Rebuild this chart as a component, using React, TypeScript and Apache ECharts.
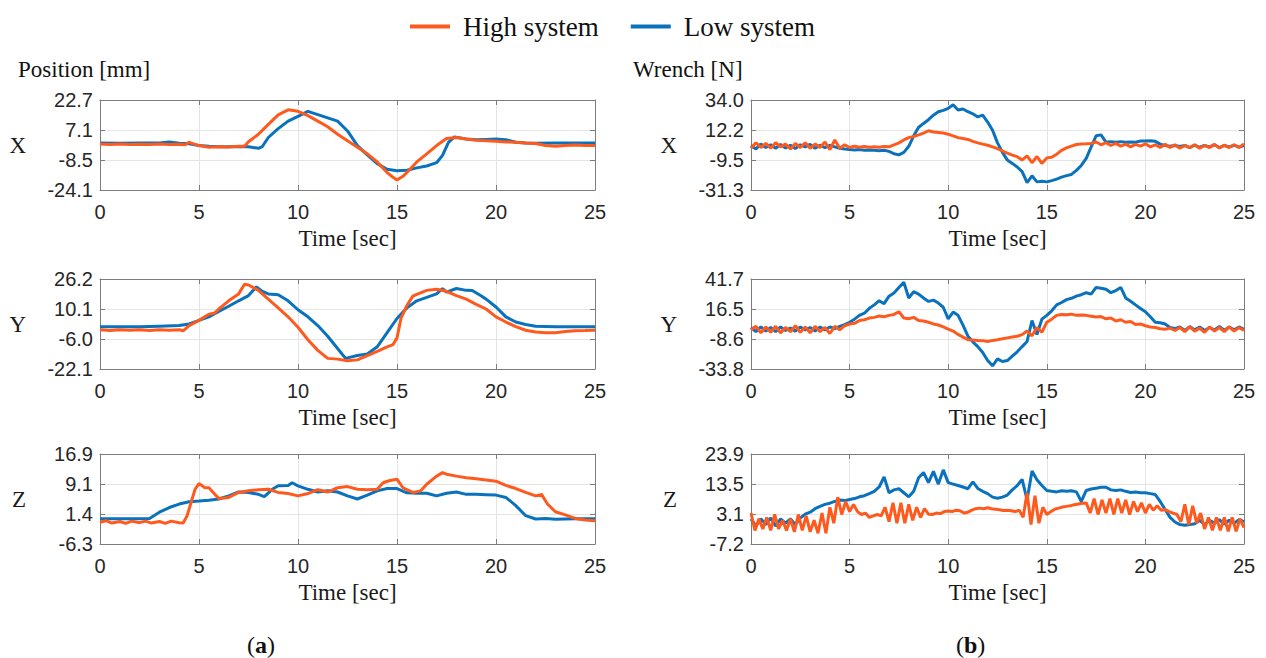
import React, { useEffect, useRef } from 'react';
import * as echarts from 'echarts';

// ---------------- data ----------------
const legendNames = ['High system', 'Low system'];
const timeMin = 0;
const timeMax = 25;
const timeInterval = 5;

const posXTicks = [-24.1, -8.5, 7.1, 22.7];
const posYTicks = [-22.1, -6.0, 10.1, 26.2];
const posZTicks = [-6.3, 1.4, 9.1, 16.9];
const wrXTicks = [-31.3, -9.5, 12.2, 34.0];
const wrYTicks = [-33.8, -8.6, 16.5, 41.7];
const wrZTicks = [-7.2, 3.1, 13.5, 23.9];

// Position [mm] — [time, value]
const posXHigh = [[0,-0.2],[0.5,-0.4],[1,-0.2],[1.5,-0.5],[2,-0.3],[2.5,-0.5],[3,-0.2],[3.5,-0.4],[4,-0.3],[4.3,-0.6],[4.5,0.7],[4.8,-0.4],[5,-1.0],[5.5,-1.9],[6,-1.6],[6.5,-1.7],[7,-1.4],[7.3,-1.3],[7.5,1.0],[8,4.9],[8.5,10],[9,15],[9.5,17.6],[10,16.8],[10.5,14.6],[11,11.7],[11.5,8.8],[12,4.9],[12.5,1.5],[13,-1.9],[13.5,-5.3],[14,-9.5],[14.5,-15],[14.8,-17.5],[15,-18.9],[15.3,-17.0],[15.5,-15],[16,-9.5],[16.5,-5.3],[17,-1.0],[17.5,2.7],[18,3.2],[18.5,2.4],[19,1.8],[19.5,1.5],[20,1.2],[20.5,0.9],[21,0.7],[21.5,0.3],[22,0.1],[22.5,-1.0],[23,-1.4],[23.5,-1.0],[24,-0.7],[24.5,-0.9],[25,-1.0]];
const posXLow = [[0,0.3],[1,0.2],[2,0.3],[3,0.3],[3.5,0.9],[4,0.2],[4.5,0],[5,-1.0],[5.5,-1.4],[6,-1.6],[6.5,-1.6],[7,-1.5],[7.5,-1.6],[8,-2.4],[8.2,-1.5],[8.5,3.2],[9,7.8],[9.5,11.7],[10,14.2],[10.5,16.8],[11,15.1],[11.5,13.4],[12,11.7],[12.5,6.6],[13,-1.0],[13.5,-5.8],[14,-10.4],[14.5,-13.3],[15,-14.1],[15.5,-13.8],[16,-12.6],[16.5,-11.6],[17,-9.9],[17.3,-6.1],[17.6,0.7],[17.9,3.5],[18.5,2.4],[19,2.0],[19.5,2.2],[20,2.4],[20.5,2.0],[21,0.7],[21.5,0.3],[22,0.2],[23,0.3],[24,0.3],[25,0.3]];
const posYHigh = [[0,-1.1],[0.5,-1.4],[1,-1.0],[1.5,-1.3],[2,-1.0],[2.5,-1.4],[3,-1.1],[3.5,-1.3],[4,-1.0],[4.2,-1.6],[4.5,1.2],[5,4.0],[5.5,7.3],[5.8,8.0],[6,10.1],[6.5,14.5],[7,18.2],[7.3,23.4],[7.5,23],[8,20.1],[8.5,15.4],[9,10.7],[9.5,5.9],[10,0.3],[10.5,-6.4],[11,-12.1],[11.5,-16.4],[12,-16.8],[12.5,-17.7],[13,-17.2],[13.5,-14.9],[14,-12.6],[14.5,-10.2],[14.8,-9.0],[15,-5.4],[15.2,5.0],[15.5,12.0],[15.8,17.0],[16,18.0],[16.5,20.1],[17,20.7],[17.5,19.6],[18,17.3],[18.5,15.4],[19,12.6],[19.5,10.1],[20,5.9],[20.5,3.1],[21,0.6],[21.5,-1.3],[22,-2.2],[22.5,-2.6],[23,-2.6],[23.5,-2.0],[24,-1.6],[24.5,-1.5],[25,-1.3]];
const posYLow = [[0,0.6],[1,0.6],[2,0.6],[3,0.9],[4,1.2],[4.5,2.1],[5,4.0],[5.5,5.9],[6,8.8],[6.5,11.6],[7,14.5],[7.5,17.3],[7.9,22],[8.2,19.5],[8.5,18.2],[9,17.7],[9.5,14.5],[10,9.7],[10.5,5.9],[11,1.2],[11.5,-4.5],[12,-11.1],[12.4,-16.4],[13,-14.9],[13.5,-14],[14,-10.2],[14.5,-2.6],[15,5.0],[15.5,10.7],[16,14.5],[16.5,16.3],[17,18.2],[17.3,21.1],[17.5,19.2],[18,21.1],[18.5,20.1],[18.8,20.0],[19.2,17.5],[19.5,15.4],[20,11.2],[20.5,5.9],[21,3.1],[21.5,1.8],[22,0.8],[23,0.6],[24,0.6],[25,0.6]];
const posZHigh = [[0,-0.7],[0.3,-0.3],[0.6,-0.9],[1,-0.5],[1.3,-1.0],[1.6,-0.4],[2,-0.8],[2.3,-0.4],[2.6,-0.9],[3,-0.5],[3.3,-1.0],[3.6,-0.4],[4,-0.8],[4.2,-0.9],[4.4,1.0],[4.6,4.4],[4.8,7.8],[5,9.3],[5.3,8.2],[5.5,8.2],[5.8,6.5],[6,5.4],[6.5,5.7],[7,7.0],[7.5,7.4],[8,7.7],[8.5,7.8],[9,7.0],[9.5,6.7],[10,6.1],[10.5,6.7],[11,7.7],[11.5,7.1],[12,8.2],[12.5,8.5],[13,7.8],[13.5,7.7],[14,7.8],[14.3,9.5],[14.6,10.0],[15,10.4],[15.3,8.2],[15.8,7.0],[16.2,7.4],[16.5,9.1],[17,11.2],[17.3,12.1],[17.5,11.7],[18,11.2],[18.5,10.8],[19,10.5],[19.5,10.2],[20,9.9],[20.5,8.8],[21,8.0],[21.5,7.0],[22,6.1],[22.3,6.5],[22.6,4.0],[23,2.0],[23.5,1.2],[24,0.3],[24.5,-0.1],[25,-0.3]];
const posZLow = [[0,0.2],[1,0.2],[2,0.2],[2.5,0.3],[3,1.9],[3.5,3.1],[4,4.0],[4.5,4.6],[5,4.8],[5.5,5.0],[6,5.3],[6.5,6.1],[7,7.1],[7.5,7.0],[8,6.5],[8.3,5.9],[8.7,7.8],[9,8.7],[9.5,8.8],[9.7,9.5],[10,8.7],[10.5,7.8],[11,7.1],[11.5,7.4],[12,7.1],[12.5,6.1],[13,5.3],[13.5,6.3],[14,7.4],[14.5,8.0],[15,8.0],[15.5,6.9],[16,6.8],[16.5,6.8],[17,6.1],[17.5,6.8],[18,7.1],[18.5,6.5],[19,6.5],[19.5,6.4],[20,6.3],[20.5,5.7],[21,3.6],[21.5,1.0],[22,0.15],[22.5,0.3],[23,0.1],[24,0.2],[25,0.2]];

// Wrench [N] — sampled every wrStep seconds from t = 0
const wrStep = 0.25;
const wrZHighStep = 0.2;
const wrXLow = [
  1.0,-1.5,2.0,-0.5, 1.5,-1.0,1.8,-0.8, 1.2,-1.2,1.5,0.0, 1.8,-1.0,1.2,-0.5, 1.0,0.0,-1.0,-1.5,
  -2.0,-2.2,-2.0,-2.5, -2.2,-2.5,-2.8,-2.5, -3.3,-5.0,-5.8,-4.0, 0.4,8.0,14.2,17.0, 19.7,23.0,25.5,26.5,
  28.0,30.5,26.7,27.5, 25.5,24.0,21.7,23.0, 18.0,12.0,2.9,-4.0, -9.6,-12.0,-14.6,-18.0, -25.9,-21.0,-25.4,-25.0,
  -25.4,-24.5,-23.4,-22.0, -20.9,-20.0,-17.1,-13.5, -8.4,0.0,8.0,8.7, 3.4,3.8,3.4,3.8, 3.4,3.6,3.4,4.2,
  4.2,4.5,4.0,2.0, 0.9,0.4,1.0,0.2, 1.0,-0.5,1.2,-0.3, 1.0,0.0,1.5,-0.5, 1.0,0.0,1.2,-0.2,
  1.0];
const wrXHigh = [
  -1.0,3.0,-0.5,2.5, -1.0,3.0,0.0,2.0, -1.5,2.5,-0.5,3.0, -1.0,2.0,-0.5,3.5, -2.0,5.0,-1.0,1.5,
  -0.5,0.5,-0.3,0.2, -0.3,0.0,-0.3,0.2, 0.0,1.5,2.9,5.0, 6.7,7.5,8.7,10.0, 11.7,10.8,10.4,10.0,
  9.2,8.0,6.7,6.0, 5.4,4.0,2.9,2.0, 1.2,0.0,-1.3,-3.0, -4.6,-6.0,-7.1,-9.5, -6.5,-11.5,-7.0,-12.0,
  -8.0,-7.5,-5.3,-2.5, -0.8,0.5,1.7,2.0, 2.2,2.5,3.5,1.5, 3.0,1.0,2.5,0.5, 2.0,0.0,1.8,0.5,
  2.2,0.0,1.5,-0.5, 1.8,-0.5,1.5,-1.0, 1.0,-0.5,1.5,-1.0, 1.0,-0.5,1.8,-0.8, 1.2,-0.5,1.5,-0.5,
  2.0];
const wrYLow = [
  1.0,-2.5,1.5,-2.0, 1.0,-2.5,1.5,-1.5, 0.5,-2.0,1.5,-1.0, 1.0,-2.0,1.5,-1.0, 1.5,0.0,2.0,3.5,
  5.4,8.0,11.2,13.0, 17.1,20.0,23.5,21.0, 27.3,30.0,34.6,39.0, 25.8,31.1,29.0,25.8, 22.9,24.0,21.5,18.0,
  8.3,14.0,11.2,3.0, -6.3,-11.0,-15.0,-20.0, -26.7,-31.1,-25.3,-27.5, -26.7,-23.0,-19.4,-15.0, -10.7,6.9,-4.8,8.0,
  11.2,15.0,20.0,22.0, 24.4,25.5,27.3,28.5, 30.2,29.0,34.6,34.0, 33.1,30.2,32.0,34.6, 25.8,23.0,20.0,17.0,
  14.2,10.0,5.4,5.0, 3.9,1.0,0.1,1.5, -1.5,1.8,-1.0,1.5, -1.5,1.0,-1.0,1.8, -1.2,1.5,-1.0,1.5,
  -0.5];
const wrYHigh = [
  -1.0,2.0,-3.5,1.5, -3.0,2.0,-3.5,1.0, -2.5,2.5,-3.0,1.5, -3.5,2.0,-2.5,1.0, -4.0,2.0,-1.0,2.5,
  3.9,4.5,6.9,7.5, 8.9,9.5,10.7,10.0, 11.2,12.0,14.2,9.0, 8.3,9.5,6.9,6.5, 5.4,4.0,3.1,1.5,
  -0.4,-2.0,-4.8,-7.0, -9.2,-9.5,-9.8,-10.0, -10.7,-9.8,-9.2,-8.5, -7.7,-7.0,-6.3,-5.0, -1.9,-6.0,1.0,-3.0,
  5.4,8.0,11.2,12.0, 11.8,12.2,11.2,11.5, 11.2,10.5,9.8,10.2, 8.3,9.0,6.5,7.5, 5.4,6.0,3.5,4.0,
  2.5,1.5,1.0,0.0, -0.4,0.5,-1.5,1.0, -2.5,1.5,-2.0,0.5, -3.0,1.5,-2.0,1.0, -2.5,1.5,-2.0,1.0,
  -1.5];
const wrZLow = [
  1.5,-1.0,1.5,-0.5, 1.8,-1.0,1.5,0.0, 1.5,-0.5,1.8,3.1, 3.8,5.0,5.8,6.5, 6.9,7.5,8.0,7.8,
  8.2,8.5,9.1,9.5, 10.2,11.0,12.5,16.0, 10.5,11.5,11.9,10.5, 9.1,11.0,15.7,17.5, 14.0,17.9,13.5,18.4,
  14.0,13.5,13.0,12.5, 11.9,14.3,12.0,11.0, 10.2,9.0,8.6,9.0, 9.7,11.5,13.0,15.1, 8.0,18.0,15.0,13.0,
  11.3,11.0,10.8,11.2, 11.0,11.2,10.8,7.5, 11.3,11.8,12.1,12.4, 12.4,11.5,11.3,11.5, 11.0,10.6,10.8,10.5,
  10.5,10.2,9.9,7.5, 4.7,2.0,0.4,-0.5, -0.7,-0.5,-0.2,1.0, -0.5,1.0,0.0,1.2, -0.3,1.0,0.0,1.2,
  0.5];
const wrZHigh = [
  3.5,-2.5,1.5,-2.0,2.0, -2.5,3.0,-2.0,1.0,-2.5, 1.5,-3.0,3.0,-2.5,2.5, -3.0,1.0,-3.5,3.5,-3.5, 5.5,0.0,9.0,3.0,7.5,
  4.0,6.5,4.0,3.0,3.5, 2.0,2.5,3.0,2.5,5.5, 0.5,7.0,0.0,7.0,0.0, 6.5,1.0,5.5,2.0,5.0, 3.1,3.0,3.5,3.3,4.0,
  4.2,4.0,4.5,4.3,3.5, 3.8,4.5,5.0,5.2,5.0, 5.3,5.0,4.8,4.6,4.4, 4.5,4.3,4.0,4.5,2.0, 10.5,-0.5,9.5,0.0,5.5,
  3.0,4.0,4.8,5.2,5.6, 5.8,6.0,6.4,6.6,6.9, 7.0,3.5,8.5,3.0,8.0, 3.5,8.5,3.0,8.5,3.5, 8.0,3.0,7.5,4.0,7.0,
  3.5,6.5,4.5,6.0,4.5, 4.7,4.0,3.5,3.0,0.5, 6.5,-0.5,6.0,0.0,3.5, -2.0,2.0,-2.5,2.0,-2.5, 2.0,-2.8,2.0,-2.8,1.5,
  -1.5];

// ---------------- styling ----------------
const SANS = '"Liberation Sans", Arial, Helvetica, sans-serif';
const SERIF = '"Liberation Serif", "Times New Roman", Times, serif';
const SERIF_PLAIN = 'Liberation Serif';
const HIGH_COLOR = '#FF5A1E';
const LOW_COLOR = '#0A72BD';
const BOX_COLOR = '#7d7d7d';
const GRID_COLOR = '#e4e4e4';

const colLeft = [100, 751];
const colWidth = [495, 493];
const rowTop = [100, 279, 454];
const rowHeight = 90;

const toPairs = (vals: number[], step: number) => vals.map((v, i) => [+(i * step).toFixed(3), v]);

const panels = [
  { row: 0, col: 0, name: 'X', ticks: posXTicks, high: posXHigh, low: posXLow },
  { row: 1, col: 0, name: 'Y', ticks: posYTicks, high: posYHigh, low: posYLow },
  { row: 2, col: 0, name: 'Z', ticks: posZTicks, high: posZHigh, low: posZLow },
  { row: 0, col: 1, name: 'X', ticks: wrXTicks, high: toPairs(wrXHigh, wrStep), low: toPairs(wrXLow, wrStep) },
  { row: 1, col: 1, name: 'Y', ticks: wrYTicks, high: toPairs(wrYHigh, wrStep), low: toPairs(wrYLow, wrStep) },
  { row: 2, col: 1, name: 'Z', ticks: wrZTicks, high: toPairs(wrZHigh, wrZHighStep), low: toPairs(wrZLow, wrStep) },
];

function buildOption() {
  const grid: any[] = [];
  const xAxis: any[] = [];
  const yAxis: any[] = [];
  const series: any[] = [];
  const lineAxis = { show: true, onZero: false, lineStyle: { color: BOX_COLOR, width: 1 } };
  panels.forEach((p, i) => {
    grid.push({ left: colLeft[p.col], top: rowTop[p.row], width: colWidth[p.col], height: rowHeight, containLabel: false });
    const ymin = p.ticks[0];
    const ymax = p.ticks[p.ticks.length - 1];
    xAxis.push({
      type: 'value', gridIndex: i, min: timeMin, max: timeMax, interval: timeInterval, position: 'bottom',
      name: 'Time [sec]', nameLocation: 'middle', nameGap: 37,
      nameTextStyle: { fontFamily: SERIF, fontSize: 23, color: '#1a1a1a' },
      axisLine: lineAxis,
      axisTick: { show: true, inside: true, length: 5, lineStyle: { color: BOX_COLOR } },
      axisLabel: { show: true, margin: 12, fontFamily: SANS, fontSize: 20, color: '#262626' },
      splitLine: { show: true, lineStyle: { color: GRID_COLOR, width: 1 } },
    });
    xAxis.push({
      type: 'value', gridIndex: i, min: timeMin, max: timeMax, interval: timeInterval, position: 'top',
      axisLine: lineAxis,
      axisTick: { show: true, inside: true, length: 5, lineStyle: { color: BOX_COLOR } },
      axisLabel: { show: false }, splitLine: { show: false },
    });
    yAxis.push({
      type: 'value', gridIndex: i, min: ymin, max: ymax, position: 'left',
      name: p.name, nameLocation: 'middle', nameRotate: 0, nameGap: 74,
      nameTextStyle: { fontFamily: SERIF, fontSize: 23, color: '#1a1a1a' },
      axisLine: lineAxis,
      axisTick: { show: true, inside: true, length: 5, customValues: p.ticks, lineStyle: { color: BOX_COLOR } },
      axisLabel: {
        show: true, customValues: p.ticks, margin: 7, fontFamily: SANS, fontSize: 20, color: '#262626',
        formatter: (v: number) => v.toFixed(1),
      },
      splitLine: { show: true, lineStyle: { color: GRID_COLOR, width: 1 } },
    });
    yAxis.push({
      type: 'value', gridIndex: i, min: ymin, max: ymax, position: 'right',
      axisLine: lineAxis,
      axisTick: { show: true, inside: true, length: 5, customValues: p.ticks, lineStyle: { color: BOX_COLOR } },
      axisLabel: { show: false }, splitLine: { show: false },
    });
    series.push({
      name: legendNames[1], type: 'line', xAxisIndex: 2 * i, yAxisIndex: 2 * i, data: p.low,
      showSymbol: false, symbol: 'none', lineStyle: { color: LOW_COLOR, width: 3 }, itemStyle: { color: LOW_COLOR }, z: 2,
    });
    series.push({
      name: legendNames[0], type: 'line', xAxisIndex: 2 * i, yAxisIndex: 2 * i, data: p.high,
      showSymbol: false, symbol: 'none', lineStyle: { color: HIGH_COLOR, width: 3 }, itemStyle: { color: HIGH_COLOR }, z: 3,
    });
  });

  const titleText = { fontFamily: SERIF_PLAIN, fontSize: 23, fontWeight: 400, color: '#111' };
  const capText = {
    fontFamily: SERIF_PLAIN, fontSize: 24, fontWeight: 400, color: '#111',
    rich: { b: { fontFamily: SERIF_PLAIN, fontSize: 24, fontWeight: 'bold', color: '#111' } },
  };

  return {
    animation: false,
    backgroundColor: '#ffffff',
    title: [
      { text: 'Position [mm]', left: 13, top: 53, padding: 5, textStyle: titleText },
      { text: 'Wrench [N]', left: 628, top: 53, padding: 5, textStyle: titleText },
      { text: '({b|a})', left: 242, top: 628, padding: 5, textStyle: capText },
      { text: '({b|b})', left: 951, top: 628, padding: 5, textStyle: capText },
    ],
    legend: {
      data: legendNames, left: 405, top: 8, icon: 'rect', itemWidth: 40, itemHeight: 4, itemGap: 32,
      textStyle: { fontFamily: SERIF, fontSize: 27, color: '#111', padding: [0, 0, 0, 8] },
      selectedMode: false,
    },
    grid, xAxis, yAxis, series,
  };
}

export default function App() {
  const ref = useRef<HTMLDivElement>(null);
  useEffect(() => {
    if (!ref.current) return;
    const chart = echarts.init(ref.current, undefined, { renderer: 'svg' });
    chart.setOption(buildOption() as any);
    return () => chart.dispose();
  }, []);
  return (
    <div
      ref={ref}
      style={{ position: 'fixed', left: 0, top: 0, width: 1266, height: 658, background: '#fff' }}
    />
  );
}
